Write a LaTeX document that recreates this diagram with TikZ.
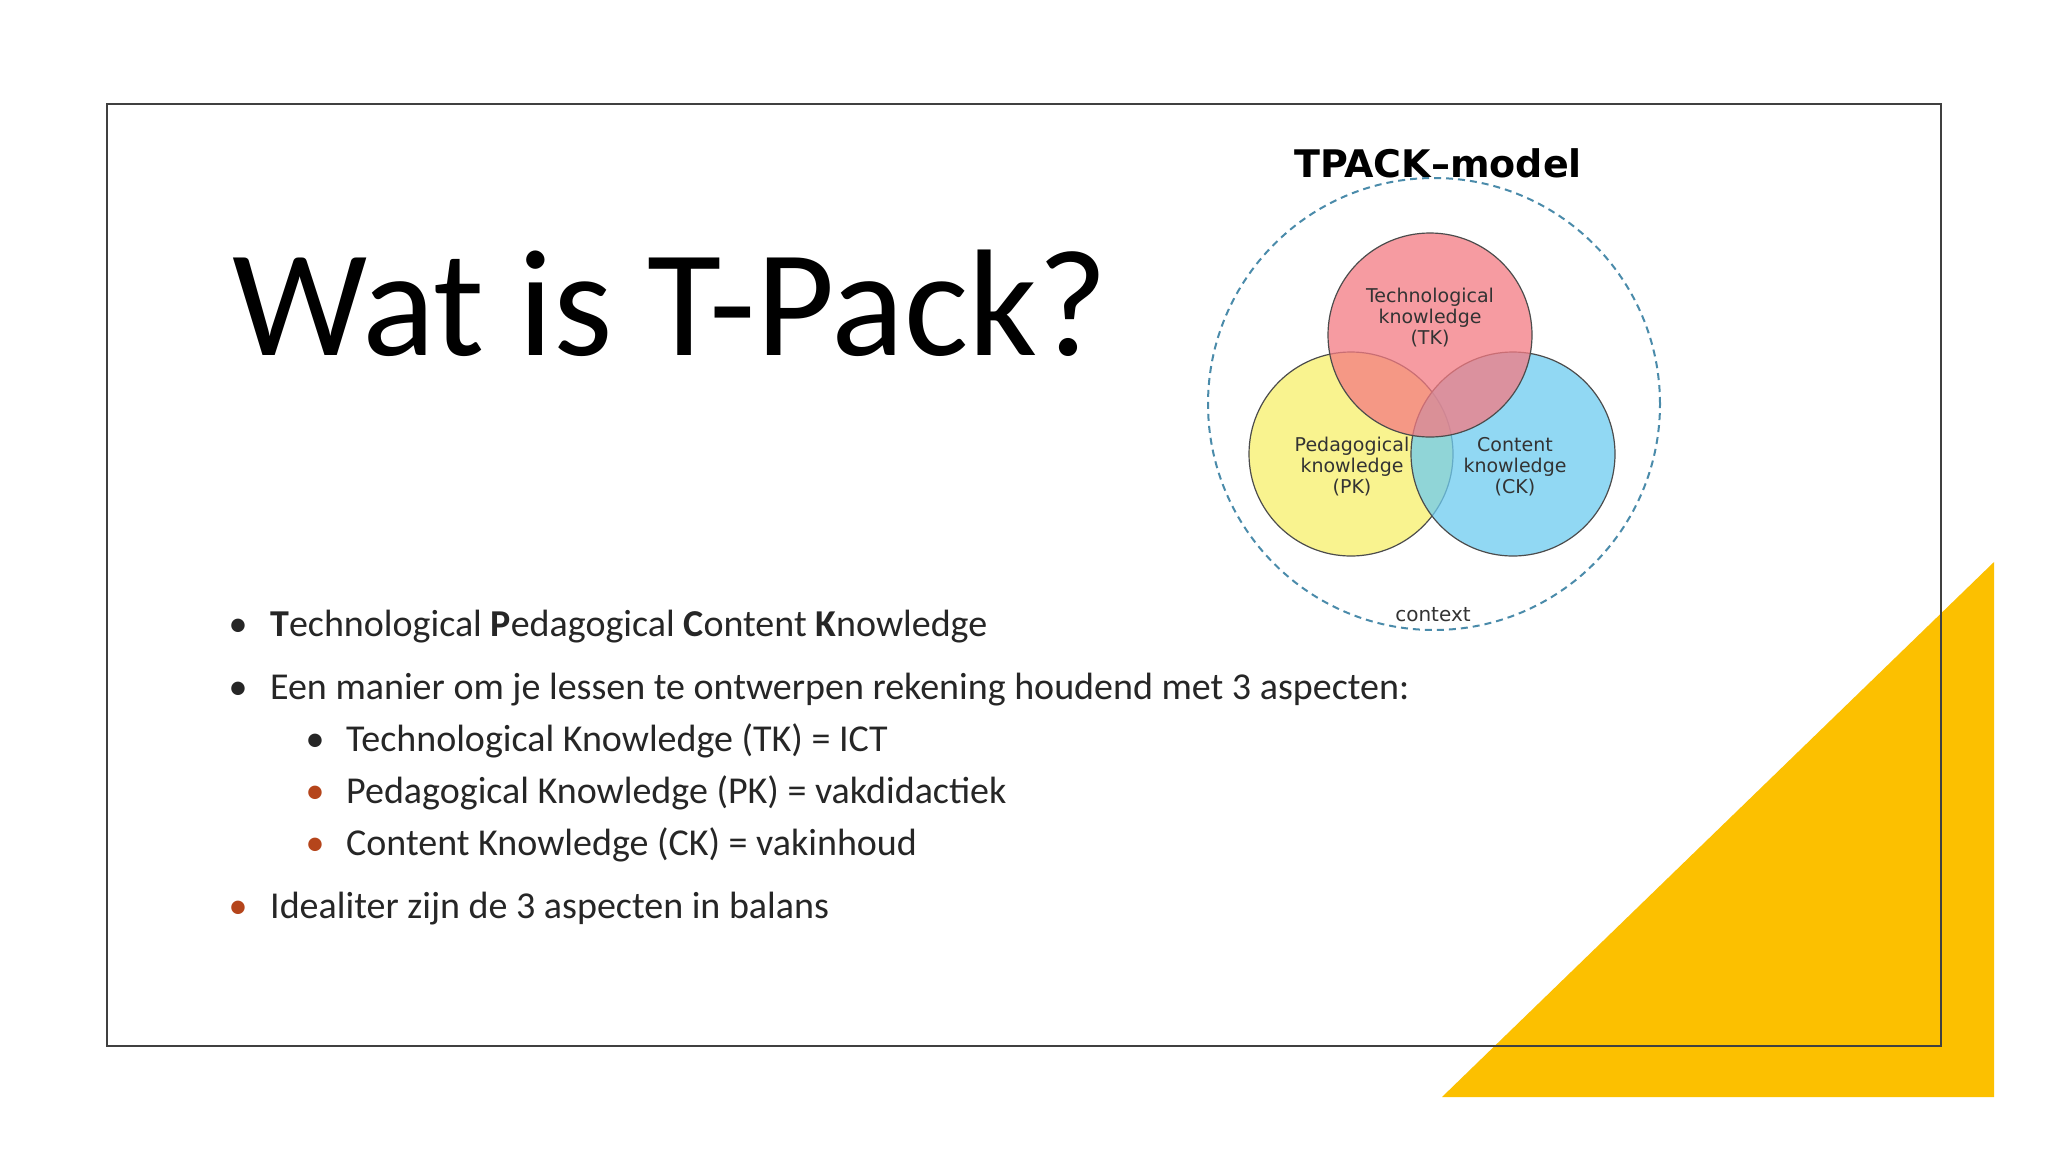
\documentclass[tikz,border=0pt]{standalone}
\usepackage{fontspec}
\setmainfont{Carlito}
\newfontfamily\venn{DejaVu Sans}
\definecolor{txt}{HTML}{262626}
\definecolor{bul}{HTML}{B5451B}
\definecolor{gold}{HTML}{FCC000}
\definecolor{dash}{HTML}{4A8BAA}
\definecolor{tkc}{HTML}{F47A82}
\definecolor{pkc}{HTML}{F7F06A}
\definecolor{ckc}{HTML}{6DCBF0}
\tikzset{
  circ/.style={circle, minimum size=204pt, draw=black!70, line width=1.2pt, fill opacity=0.75, text opacity=1},
  vl/.style={font=\venn\fontsize{19}{21}\selectfont, align=center, text=black!80},
  item/.style={anchor=base west, font=\fontsize{38}{40}\selectfont, text=txt, inner sep=0pt},
  dot/.style={anchor=base, font=\fontsize{38}{40}\selectfont, inner sep=0pt}
}
\begin{document}
\begin{tikzpicture}[x=1pt,y=-1pt]
\useasboundingbox (0,0) rectangle (2048,1152);
\fill[white] (0,0) rectangle (2048,1152);
\fill[gold] (1442,1097) -- (1994,1097) -- (1994,562) -- cycle;
\draw[black!75, line width=2.5pt] (107,104) rectangle (1941,1046);
\node[anchor=base west, inner sep=0pt, font=\fontsize{152}{160}\selectfont, text=black] (title) at (232,355) {Wat is T-Pack?};
% Venn
\node[circle, minimum size=452pt, draw=dash, dashed, line width=2pt, dash pattern=on 7pt off 5pt] (ctx) at (1434,404) {};
\node[circ, fill=pkc] (pk) at (1351,454) {};
\node[circ, fill=ckc] (ck) at (1513,454) {};
\node[circ, fill=tkc] (tk) at (1430,335) {};
\node[vl] (tkl) at (1430,318) {Technological\\knowledge\\(TK)};
\node[vl] (pkl) at (1352,467) {Pedagogical\\knowledge\\(PK)};
\node[vl] (ckl) at (1515,467) {Content\\knowledge\\(CK)};
\node[font=\venn\bfseries\fontsize{38}{40}\selectfont] (tp) at (1438,163) {TPACK–model};
\node[font=\venn\fontsize{20}{22}\selectfont, text=black!80] (cx) at (1433,615) {context};
% bullets
\node[dot, text=txt] (b1) at (238,636) {•};
\node[item] (t1) at (270,636) {\textbf{T}echnological \textbf{P}edagogical \textbf{C}ontent \textbf{K}nowledge};
\node[dot, text=txt] (b2) at (238,699) {•};
\node[item] (t2) at (270,699) {Een manier om je lessen te ontwerpen rekening houdend met 3 aspecten:};
\node[dot, text=txt] (b3) at (315,751) {•};
\node[item] (t3) at (346,751) {Technological Knowledge (TK) = ICT};
\node[dot, text=bul] (b4) at (315,803) {•};
\node[item] (t4) at (346,803) {Pedagogical Knowledge (PK) = vakdidactiek};
\node[dot, text=bul] (b5) at (315,855) {•};
\node[item] (t5) at (346,855) {Content Knowledge (CK) = vakinhoud};
\node[dot, text=bul] (b6) at (238,918) {•};
\node[item] (t6) at (270,918) {Idealiter zijn de 3 aspecten in balans};
\end{tikzpicture}
\end{document}
